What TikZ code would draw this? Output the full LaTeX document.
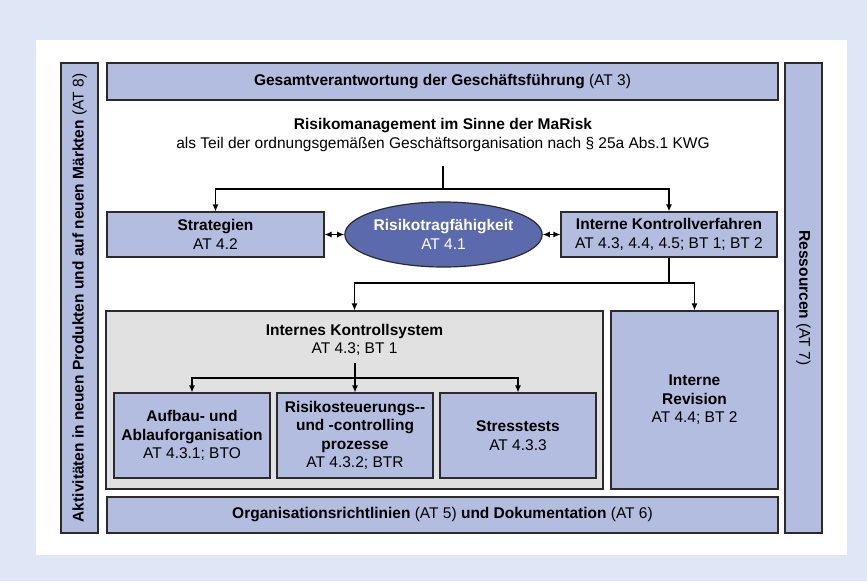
\documentclass[tikz,border=0pt]{standalone}
\usepackage{fontspec}
\setmainfont{Liberation Sans}
\usetikzlibrary{arrows.meta,shapes.geometric}
\definecolor{bgblue}{HTML}{DFE6F6}
\definecolor{boxfill}{HTML}{B3BDDF}
\definecolor{ellfill}{HTML}{5B69AD}
\definecolor{grayfill}{HTML}{E1E1E1}
\definecolor{edge}{HTML}{2B2B2B}
\begin{document}
\begin{tikzpicture}[x=1pt,y=-1pt,
  box/.style={draw=edge, line width=1.2pt, fill=boxfill, inner sep=0pt},
  graybox/.style={draw=edge, line width=1.2pt, fill=grayfill, inner sep=0pt},
  ellbox/.style={ellipse, draw=edge, line width=1.2pt, fill=ellfill, inner sep=0pt, text=white},
  txt/.style={font=\fontsize{15.5}{18.5}\selectfont, align=center},
  lbl/.style={txt, inner sep=0pt},
  conn/.style={line width=1.2pt, draw=black},
  arr/.style={conn, -{Latex[length=7pt,width=6pt]}},
  darr/.style={conn, {Latex[length=7pt,width=6pt]}-{Latex[length=7pt,width=6pt]}}]
\useasboundingbox (0,0) rectangle (867,581);
\fill[bgblue] (0,0) rectangle (867,581);
\fill[white] (36,40) rectangle (847,555);

\node[box, txt, minimum width=671pt, minimum height=37pt] (top) at (442.5,81.5)
  {\textbf{Gesamtverantwortung der Geschäftsführung} (AT 3)};
\node[box, txt, rotate=90, minimum width=470pt, minimum height=37pt] (left) at (79.5,298)
  {\textbf{Aktivitäten in neuen Produkten und auf neuen Märkten} (AT 8)};
\node[box, txt, rotate=-90, minimum width=470pt, minimum height=37pt] (right) at (803.5,298)
  {\textbf{Ressourcen} (AT 7)};
\node[box, txt, minimum width=671pt, minimum height=36pt] (bottom) at (442.5,515)
  {\textbf{Organisationsrichtlinien} (AT 5) \textbf{und Dokumentation} (AT 6)};

\node[lbl] (title) at (443,135)
  {\textbf{Risikomanagement im Sinne der MaRisk}\\als Teil der ordnungsgemäßen Geschäftsorganisation nach § 25a Abs.1 KWG};

\node[box, txt, minimum width=217pt, minimum height=45pt] (strat) at (215.5,234.5)
  {\textbf{Strategien}\\AT 4.2};
\node[ellbox, txt, minimum width=185pt, minimum height=65pt] (ell) at (443.5,234.5)
  {\textbf{Risikotragfähigkeit}\\AT 4.1};
\node[box, txt, minimum width=216pt, minimum height=45pt] (ikv) at (669,234.5)
  {\textbf{Interne Kontrollverfahren}\\AT 4.3, 4.4, 4.5; BT 1; BT 2};

\node[graybox, minimum width=497pt, minimum height=178pt] (iks) at (354.5,400) {};
\node[lbl, anchor=north] (ikst) at (354.5,324)
  {\textbf{Internes Kontrollsystem}\\AT 4.3; BT 1};
\node[box, txt, minimum width=167pt, minimum height=178pt] (ir) at (694.5,400)
  {\textbf{Interne}\\\textbf{Revision}\\AT 4.4; BT 2};

\node[box, txt, minimum width=156pt, minimum height=85pt] (b1) at (192,435.5)
  {\textbf{Aufbau- und}\\\textbf{Ablauforganisation}\\AT 4.3.1; BTO};
\node[box, txt, minimum width=156pt, minimum height=85pt] (b2) at (355,435.5)
  {\textbf{Risikosteuerungs-{}-}\\\textbf{und -controlling}\\\textbf{prozesse}\\AT 4.3.2; BTR};
\node[box, txt, minimum width=156pt, minimum height=85pt] (b3) at (518,435.5)
  {\textbf{Stresstests}\\AT 4.3.3};

\coordinate (tstart) at (443,166);
\coordinate (tj) at (443,189);
\draw[conn] (tstart) -- (tj);
\draw[arr] (tj) -| (strat.north);
\draw[arr] (tj) -| (ikv.north);
\draw[darr] (strat.east) -- (ell.west);
\draw[darr] (ell.east) -- (ikv.west);

\coordinate (kj) at (669,283);
\draw[conn] (ikv.south) -- (kj);
\draw[arr] (kj) -| (iks.north);
\draw[arr] (kj) -| (ir.north);

\coordinate (is) at (355,363);
\coordinate (ij) at (355,378);
\draw[arr] (is) -- (b2.north);
\draw[arr] (ij) -| (b1.north);
\draw[arr] (ij) -| (b3.north);
\end{tikzpicture}
\end{document}
